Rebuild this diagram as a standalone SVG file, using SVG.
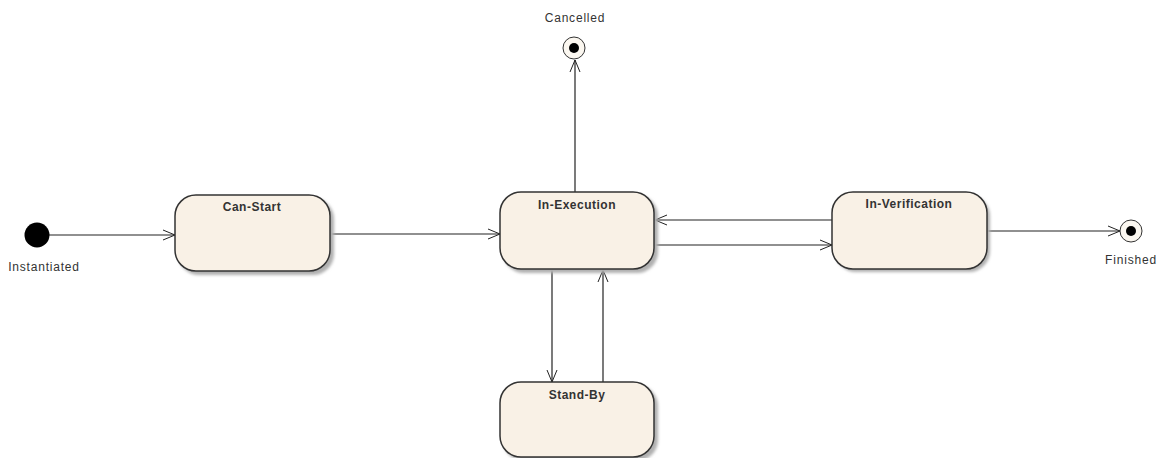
<svg xmlns="http://www.w3.org/2000/svg" width="1158" height="458" viewBox="0 0 1158 458">
<defs>
<marker id="arr" markerWidth="14" markerHeight="12" refX="13" refY="6" orient="auto" markerUnits="userSpaceOnUse">
<path d="M1,1 L13,6 L1,11" fill="none" stroke="#222" stroke-width="1"/>
</marker>
<filter id="sh" x="-10%" y="-10%" width="130%" height="130%">
<feGaussianBlur stdDeviation="1.5"/>
</filter>
</defs>
<style>
.st{fill:#f9f1e6;stroke:#333;stroke-width:1.5}
.shd{fill:#b0b0b0;filter:url(#sh)}
.lbl{font-family:"Liberation Sans",Arial,sans-serif;font-size:12px;font-weight:bold;fill:#333;text-anchor:middle;letter-spacing:0.5px}
.cap{font-family:"Liberation Sans",Arial,sans-serif;font-size:12px;fill:#333;text-anchor:middle;letter-spacing:0.8px}
.ln{stroke:#222;stroke-width:1.2;fill:none}
.fin{fill:#fbf7f0;stroke:#333;stroke-width:1}
</style>
<rect width="1158" height="458" fill="#ffffff"/>
<g id="connectors">
<line class="ln" x1="49" y1="235" x2="175" y2="235" marker-end="url(#arr)"/>
<line class="ln" x1="331" y1="234" x2="500" y2="234" marker-end="url(#arr)"/>
<line class="ln" x1="575" y1="192" x2="575" y2="60" marker-end="url(#arr)"/>
<line class="ln" x1="832" y1="220" x2="655" y2="220" marker-end="url(#arr)"/>
<line class="ln" x1="655" y1="245" x2="832" y2="245" marker-end="url(#arr)"/>
<line class="ln" x1="987" y1="231" x2="1120" y2="231" marker-end="url(#arr)"/>
<line class="ln" x1="552" y1="270" x2="552" y2="382" marker-end="url(#arr)"/>
<line class="ln" x1="603" y1="382" x2="603" y2="270" marker-end="url(#arr)"/>
</g>
<g id="initial">
<circle cx="37" cy="235" r="12.5" fill="#000"/>
<text class="cap" x="44" y="271">Instantiated</text>
</g>
<g id="can-start">
<rect class="shd" x="178" y="198" width="156" height="77" rx="21"/>
<rect class="st" x="175" y="195" width="155" height="76" rx="21"/>
<text class="lbl" x="252" y="211">Can-Start</text>
</g>
<g id="in-execution">
<rect class="shd" x="503" y="195" width="155" height="78" rx="21"/>
<rect class="st" x="500" y="192" width="154" height="77" rx="21"/>
<text class="lbl" x="577" y="209">In-Execution</text>
</g>
<g id="in-verification">
<rect class="shd" x="835" y="195" width="155" height="77" rx="21"/>
<rect class="st" x="832" y="192" width="155" height="77" rx="21"/>
<text class="lbl" x="909" y="208">In-Verification</text>
</g>
<g id="stand-by">
<rect class="shd" x="503" y="385" width="155" height="76" rx="21"/>
<rect class="st" x="500" y="382" width="154" height="75" rx="21"/>
<text class="lbl" x="577" y="399">Stand-By</text>
</g>
<g id="cancelled">
<circle class="fin" cx="574" cy="48" r="11"/>
<circle cx="574" cy="48" r="5" fill="#000"/>
<text class="cap" x="575" y="22">Cancelled</text>
</g>
<g id="finished">
<circle class="fin" cx="1131" cy="231" r="11"/>
<circle cx="1131" cy="231" r="5" fill="#000"/>
<text class="cap" x="1131" y="264">Finished</text>
</g>
</svg>
